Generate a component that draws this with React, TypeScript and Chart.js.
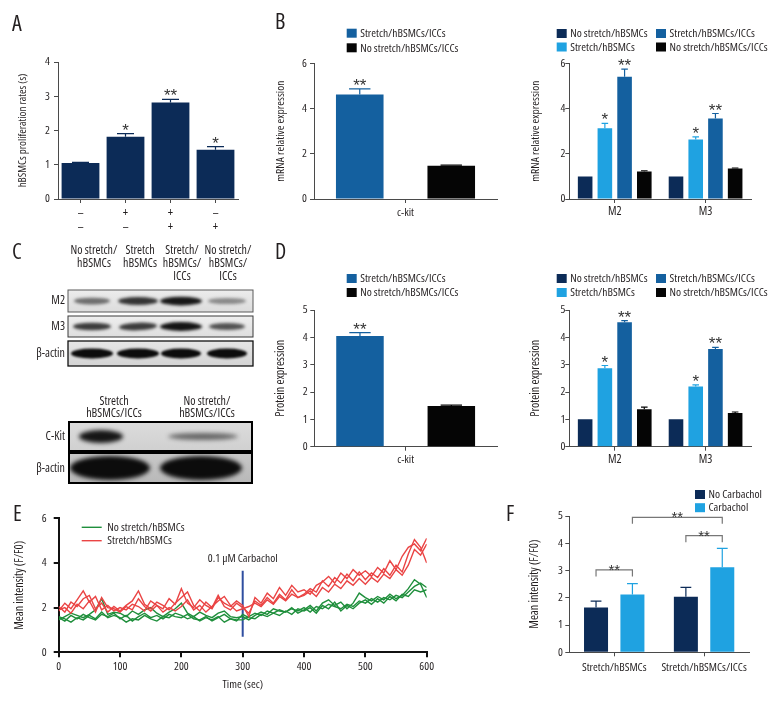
import React, { useEffect, useRef } from 'react';
import { Chart, registerables } from 'chart.js';

Chart.register(...registerables);

// Condensed face of Open Sans (width axis), close to the original condensed figure font
const FAM = "'Open Sans', 'Liberation Sans', Arial, sans-serif";
const PRE = 'condensed ';
const F = (size: number) => `${PRE}${size}px ${FAM}`;

Chart.defaults.font.family = FAM;
(Chart.defaults.font as any).weight = 'normal condensed';

const TEXT = '#231f20';
const AXIS = '#4a4a4a';
const STAR = '#333333';
const NAVY = '#0c2b57';
const MID = '#14609f';
const LIGHT = '#1fa2e1';
const BLACK = '#050505';
const GREEN = '#1f8f3c';
const RED = '#ea4444';
const CARB_BLUE = '#2f4ea0';
const BRACKET = '#777777';

// ---------------- Panel A ----------------
const A_LABELS = [['–', '–'], ['+', '–'], ['+', '+'], ['–', '+']];
const A_VALUES = [1.05, 1.82, 2.82, 1.44];
const A_ERR = [0.02, 0.09, 0.09, 0.09];
const A_STARS = ['', '*', '**', '*'];

// ---------------- Series names ----------------
const S_NOSTRETCH_H = 'No stretch/hBSMCs';
const S_STRETCH_H = 'Stretch/hBSMCs';
const S_STRETCH_HI = 'Stretch/hBSMCs/ICCs';
const S_NOSTRETCH_HI = 'No stretch/hBSMCs/ICCs';

// ---------------- Panel B (mRNA) ----------------
const CKIT_LABELS = ['c-kit'];
const B_CKIT_STRETCH = [4.62];
const B_CKIT_STRETCH_ERR = [0.25];
const B_CKIT_NOSTRETCH = [1.47];
const B_CKIT_NOSTRETCH_ERR = [0.03];

const M_LABELS = ['M2', 'M3'];
const B_M_NOSTRETCH_H = [1.0, 1.0];
const B_M_STRETCH_H = [3.13, 2.63];
const B_M_STRETCH_H_ERR = [0.21, 0.12];
const B_M_STRETCH_HI = [5.41, 3.56];
const B_M_STRETCH_HI_ERR = [0.33, 0.22];
const B_M_NOSTRETCH_HI = [1.22, 1.35];
const B_M_NOSTRETCH_HI_ERR = [0.03, 0.02];

// ---------------- Panel D (protein) ----------------
const D_CKIT_STRETCH = [4.05];
const D_CKIT_STRETCH_ERR = [0.12];
const D_CKIT_NOSTRETCH = [1.49];
const D_CKIT_NOSTRETCH_ERR = [0.03];

const D_M_NOSTRETCH_H = [1.0, 1.0];
const D_M_STRETCH_H = [2.87, 2.2];
const D_M_STRETCH_H_ERR = [0.1, 0.06];
const D_M_STRETCH_HI = [4.55, 3.57];
const D_M_STRETCH_HI_ERR = [0.06, 0.06];
const D_M_NOSTRETCH_HI = [1.37, 1.23];
const D_M_NOSTRETCH_HI_ERR = [0.08, 0.04];

const M_STARS_LIGHT = ['*', '*'];
const M_STARS_MID = ['**', '**'];
const CKIT_STARS = ['**'];

// ---------------- Panel E (time course) ----------------
const E_TIME = [0, 10, 20, 30, 40, 50, 60, 70, 80, 90, 100, 110, 120, 130, 140, 150, 160, 170, 180, 190, 200, 210, 220, 230, 240, 250, 260, 270, 280, 290, 300, 310, 320, 330, 340, 350, 360, 370, 380, 390, 400, 410, 420, 430, 440, 450, 460, 470, 480, 490, 500, 510, 520, 530, 540, 550, 560, 570, 580, 590, 600];
const E_GREEN_1 = [1.55, 1.40, 1.65, 1.50, 1.70, 1.55, 1.45, 1.70, 1.60, 1.75,
  1.50, 1.65, 1.40, 1.60, 1.75, 1.55, 1.65, 1.50, 1.70, 1.60,
  1.55, 1.70, 1.50, 1.45, 1.60, 1.40, 1.55, 1.70, 1.50, 1.45,
  1.45, 1.60, 1.75, 1.65, 1.85, 1.75, 1.90, 1.80, 1.95, 1.85,
  2.00, 1.80, 2.05, 1.95, 2.15, 2.05, 1.95, 2.15, 2.05, 2.30,
  2.20, 2.40, 2.25, 2.45, 2.35, 2.55, 2.45, 2.70, 2.95, 3.10,
  2.90];
const E_GREEN_2 = [1.45, 1.60, 1.75, 1.65, 1.55, 1.70, 1.90, 2.40, 1.70, 1.80,
  1.75, 1.60, 1.85, 1.70, 1.90, 2.00, 1.75, 1.60, 1.80, 1.95,
  2.20, 1.75, 1.60, 1.80, 1.65, 1.55, 1.75, 1.85, 1.60, 1.55,
  1.60, 1.45, 1.65, 1.80, 1.70, 1.95, 1.85, 1.80, 2.00, 1.75,
  1.90, 2.10, 1.85, 2.20, 2.35, 2.10, 2.25, 1.95, 2.20, 2.65,
  2.45, 2.30, 2.50, 2.35, 2.60, 2.40, 2.55, 2.85, 3.25, 3.05,
  2.45];
const E_GREEN_3 = [1.60, 1.50, 1.35, 1.55, 1.45, 1.65, 1.50, 1.80, 1.55, 1.65,
  1.55, 1.35, 1.50, 1.45, 1.65, 1.50, 1.40, 1.60, 1.55, 1.75,
  1.65, 1.50, 1.60, 1.40, 1.55, 1.45, 1.60, 1.35, 1.50, 1.40,
  1.70, 1.55, 1.50, 1.70, 1.60, 1.75, 1.65, 1.85, 1.70, 1.95,
  1.85, 2.00, 1.75, 2.10, 1.95, 2.25, 1.85, 2.10, 1.95, 2.20,
  2.35, 2.15, 2.40, 2.20, 2.50, 2.30, 2.60, 2.50, 2.80, 2.70,
  2.80];
const E_RED_1 = [1.85, 2.20, 1.95, 2.35, 2.75, 2.25, 2.50, 1.90, 2.10, 1.85,
  2.00, 1.90, 2.15, 2.05, 1.85, 2.30, 2.10, 1.95, 2.40, 2.15,
  2.85, 2.20, 2.00, 2.35, 2.10, 1.95, 2.45, 2.20, 2.05, 2.30,
  2.10, 1.60, 2.45, 2.20, 2.65, 2.40, 2.90, 2.55, 3.00, 2.70,
  2.80, 2.60, 3.00, 3.15, 3.40, 3.10, 3.55, 3.30, 3.70, 3.45,
  3.65, 3.40, 3.80, 3.55, 4.10, 3.70, 4.30, 4.70, 4.85, 4.55,
  5.10];
const E_RED_2 = [2.05, 1.80, 2.25, 2.05, 2.40, 2.55, 1.95, 2.20, 1.80, 2.05,
  1.85, 2.10, 2.30, 2.75, 2.15, 1.95, 2.25, 2.10, 1.90, 2.20,
  2.45, 2.70, 2.10, 1.85, 2.25, 2.00, 2.55, 2.05, 1.90, 2.20,
  2.00, 1.75, 2.30, 2.10, 2.45, 2.20, 2.60, 2.35, 2.80, 2.45,
  2.60, 2.85, 2.70, 3.20, 2.95, 3.35, 3.10, 3.50, 3.20, 3.60,
  3.25, 3.55, 3.35, 3.75, 3.45, 3.90, 3.60, 4.40, 5.05, 4.70,
  4.00];
const E_RED_3 = [1.90, 2.00, 1.75, 2.15, 1.95, 2.30, 1.80, 2.45, 2.00, 1.95,
  1.80, 2.05, 1.90, 2.40, 2.05, 1.85, 2.10, 1.80, 2.00, 1.85,
  2.05, 2.35, 1.90, 2.10, 1.80, 2.05, 2.30, 2.50, 2.10, 1.85,
  1.95, 2.05, 2.20, 2.05, 2.35, 2.15, 2.50, 2.30, 2.60, 2.45,
  2.55, 2.75, 2.50, 2.90, 2.70, 3.05, 2.85, 3.20, 3.00, 3.30,
  3.05, 3.35, 3.15, 3.50, 3.30, 3.70, 3.45, 3.90, 4.60, 4.35,
  4.85];
const E_GREEN = [E_GREEN_1, E_GREEN_2, E_GREEN_3];
const E_RED = [E_RED_1, E_RED_2, E_RED_3];
const E_LEGEND = ['No stretch/hBSMCs', 'Stretch/hBSMCs'];
const CARB_TIME = 300;
const CARB_Y = [0.7, 3.65];
const CARB_TEXT = '0.1 μM Carbachol';
const CARB_TEXT_Y = 4.2;

// ---------------- Panel F ----------------
const F_LABELS = ['Stretch/hBSMCs', 'Stretch/hBSMCs/ICCs'];
const F_NOCARB = [1.64, 2.04];
const F_NOCARB_ERR = [0.24, 0.34];
const F_CARB = [2.12, 3.12];
const F_CARB_ERR = [0.40, 0.69];
const F_BRACKET_LEVELS = [3.02, 4.28, 4.95];

// ---------------- Panel C (blots) ----------------
const C_HEADERS = [['No stretch/', 'hBSMCs'], ['Stretch', 'hBSMCs'], ['Stretch/', 'hBSMCs/', 'ICCs'], ['No stretch/', 'hBSMCs/', 'ICCs']];
const C_HEADERS_2 = [['Stretch', 'hBSMCs/ICCs'], ['No stretch/', 'hBSMCs/ICCs']];
const M2_INTENSITY = [0.55, 0.82, 0.95, 0.42];
const M3_INTENSITY = [0.78, 0.78, 0.97, 0.68];
const ACTIN_INTENSITY = [1, 1, 1, 1];
const CKIT_INTENSITY = [0.95, 0.55];
const ACTIN2_INTENSITY = [1, 1];

type Box = { x: number; y: number; w: number; h: number };
type Plot = { l: number; t: number; r: number; b: number };

interface BarSeries {
  label: string;
  color: string;
  values: (number | null)[];
  err?: number[];
  stars?: string[];
  leg?: [number, number];
}

interface BarSpec {
  box: Box;
  plot: Plot;
  labels: any[];
  series: BarSeries[];
  yMax: number;
  yStep: number;
  yTitle: string;
  yTitleX: number;
  yTitleSize: number;
  yTickRight: number;
  xLabelY: number;
  xFontSize: number;
  xLineHeight?: number;
  catPct: number;
  barPct: number;
  legend?: { cols: number[]; rows: number[] };
  brackets?: { a: [number, number]; b: [number, number]; level: number; text: string }[];
}

const TL = 4;
const STAR_FONT = (s: number) => `${s}px 'Liberation Sans', Arial, sans-serif`;

function barExtras(spec: BarSpec) {
  return {
    id: 'barExtras',
    afterDatasetsDraw(chart: any) {
      const ctx = chart.ctx as CanvasRenderingContext2D;
      const ys = chart.scales.y;
      ctx.save();
      spec.series.forEach((s, di) => {
        const meta = chart.getDatasetMeta(di);
        s.values.forEach((v, i) => {
          if (v == null) return;
          const bar: any = meta.data[i];
          if (!bar) return;
          const e = s.err ? s.err[i] : 0;
          const yTop = ys.getPixelForValue(v);
          const yErr = ys.getPixelForValue(v + e);
          if (e > 0) {
            const cw = bar.width * 0.45;
            ctx.strokeStyle = s.color;
            ctx.lineWidth = 1.2;
            ctx.beginPath();
            ctx.moveTo(bar.x, yTop);
            ctx.lineTo(bar.x, yErr);
            ctx.moveTo(bar.x - cw / 2, yErr);
            ctx.lineTo(bar.x + cw / 2, yErr);
            ctx.stroke();
          }
          const st = s.stars ? s.stars[i] : '';
          if (st) {
            ctx.fillStyle = STAR;
            ctx.font = STAR_FONT(17);
            ctx.textAlign = 'center';
            ctx.textBaseline = 'alphabetic';
            ctx.fillText(st, bar.x, yErr + 2);
          }
        });
      });
      if (spec.legend) {
        const lg = spec.legend;
        ctx.font = F(11.5);
        ctx.textAlign = 'left';
        ctx.textBaseline = 'middle';
        spec.series.forEach((s) => {
          if (!s.leg) return;
          const bx = lg.cols[s.leg[0]] - spec.box.x;
          const by = lg.rows[s.leg[1]] - spec.box.y;
          ctx.fillStyle = s.color;
          ctx.fillRect(bx, by - 4.5, 10, 9);
          ctx.fillStyle = TEXT;
          ctx.fillText(s.label, bx + 13.5, by + 0.5);
        });
      }
      if (spec.brackets) {
        ctx.strokeStyle = BRACKET;
        ctx.lineWidth = 1.2;
        spec.brackets.forEach((br) => {
          const pa: any = chart.getDatasetMeta(br.a[0]).data[br.a[1]];
          const pb: any = chart.getDatasetMeta(br.b[0]).data[br.b[1]];
          const y = ys.getPixelForValue(br.level);
          ctx.beginPath();
          ctx.moveTo(pa.x, y + 6.5);
          ctx.lineTo(pa.x, y);
          ctx.lineTo(pb.x, y);
          ctx.lineTo(pb.x, y + 6.5);
          ctx.stroke();
          ctx.fillStyle = STAR;
          ctx.font = STAR_FONT(15);
          ctx.textAlign = 'center';
          ctx.textBaseline = 'alphabetic';
          ctx.fillText(br.text, (pa.x + pb.x) / 2, y + 5);
        });
      }
      ctx.restore();
    },
  };
}

function barConfig(spec: BarSpec): any {
  const xlh = spec.xLineHeight ?? 1.2;
  const xHalf = (spec.xFontSize * xlh) / 2;
  const tHalf = (spec.yTitleSize * 1.2) / 2;
  return {
    type: 'bar',
    data: {
      labels: spec.labels,
      datasets: spec.series.map((s) => ({
        label: s.label,
        data: s.values,
        backgroundColor: s.color,
        borderColor: s.color,
        borderWidth: 0,
        categoryPercentage: spec.catPct,
        barPercentage: spec.barPct,
      })),
    },
    options: {
      animation: false,
      responsive: false,
      devicePixelRatio: 1,
      layout: {
        padding: {
          left: 0,
          top: spec.plot.t - spec.box.y,
          right: spec.box.x + spec.box.w - spec.plot.r,
          bottom: 0,
        },
      },
      plugins: { legend: { display: false }, tooltip: { enabled: false } },
      scales: {
        x: {
          offset: true,
          grid: { offset: false, drawOnChartArea: false, drawTicks: true, tickLength: TL, color: AXIS, lineWidth: 1 },
          border: { display: true, color: AXIS, width: 1 },
          ticks: {
            padding: spec.xLabelY - spec.plot.b - TL - xHalf,
            font: { size: spec.xFontSize, lineHeight: xlh },
            color: TEXT,
            maxRotation: 0,
            autoSkip: false,
          },
          afterFit: (s: any) => {
            s.height = spec.box.y + spec.box.h - spec.plot.b;
          },
        },
        y: {
          min: 0,
          max: spec.yMax,
          grid: { drawOnChartArea: false, drawTicks: true, tickLength: TL, color: AXIS, lineWidth: 1 },
          border: { display: true, color: AXIS, width: 1 },
          ticks: {
            stepSize: spec.yStep,
            padding: spec.plot.l - TL - spec.yTickRight,
            font: { size: 11.5 },
            color: TEXT,
          },
          title: {
            display: true,
            text: spec.yTitle,
            color: TEXT,
            font: { size: spec.yTitleSize },
            padding: { top: spec.yTitleX - spec.box.x - tHalf, bottom: 0 },
          },
          afterFit: (s: any) => {
            s.width = spec.plot.l - spec.box.x;
          },
        },
      },
    },
    plugins: [barExtras(spec)],
  };
}

// ---------------- Specs ----------------
const SPEC_A: BarSpec = {
  box: { x: 0, y: 0, w: 250, h: 240 },
  plot: { l: 58, t: 62, r: 238, b: 199 },
  labels: A_LABELS,
  series: [{ label: 'A', color: NAVY, values: A_VALUES, err: A_ERR, stars: A_STARS }],
  yMax: 4,
  yStep: 1,
  yTitle: 'hBSMCs proliferation rates (s)',
  yTitleX: 23,
  yTitleSize: 11,
  yTickRight: 50,
  xLabelY: 213,
  xFontSize: 12.5,
  xLineHeight: 1.12,
  catPct: 1,
  barPct: 0.84,
};

const SPEC_B1: BarSpec = {
  box: { x: 255, y: 0, w: 255, h: 230 },
  plot: { l: 314, t: 63.3, r: 497, b: 199 },
  labels: CKIT_LABELS,
  series: [
    { label: S_STRETCH_HI, color: MID, values: B_CKIT_STRETCH, err: B_CKIT_STRETCH_ERR, stars: CKIT_STARS, leg: [0, 0] },
    { label: '', color: 'rgba(0,0,0,0)', values: [null] },
    { label: S_NOSTRETCH_HI, color: BLACK, values: B_CKIT_NOSTRETCH, err: B_CKIT_NOSTRETCH_ERR, leg: [0, 1] },
  ],
  yMax: 6,
  yStep: 2,
  yTitle: 'mRNA relative expression',
  yTitleX: 280.7,
  yTitleSize: 11.5,
  yTickRight: 307,
  xLabelY: 213,
  xFontSize: 11.5,
  catPct: 0.75,
  barPct: 1.04,
  legend: { cols: [346.7], rows: [33.2, 47.8] },
};

const SPEC_B2: BarSpec = {
  box: { x: 512, y: 0, w: 268, h: 230 },
  plot: { l: 569.3, t: 63.3, r: 751, b: 199 },
  labels: M_LABELS,
  series: [
    { label: S_NOSTRETCH_H, color: NAVY, values: B_M_NOSTRETCH_H, leg: [0, 0] },
    { label: S_STRETCH_H, color: LIGHT, values: B_M_STRETCH_H, err: B_M_STRETCH_H_ERR, stars: M_STARS_LIGHT, leg: [0, 1] },
    { label: S_STRETCH_HI, color: MID, values: B_M_STRETCH_HI, err: B_M_STRETCH_HI_ERR, stars: M_STARS_MID, leg: [1, 0] },
    { label: S_NOSTRETCH_HI, color: BLACK, values: B_M_NOSTRETCH_HI, err: B_M_NOSTRETCH_HI_ERR, leg: [1, 1] },
  ],
  yMax: 6,
  yStep: 2,
  yTitle: 'mRNA relative expression',
  yTitleX: 536,
  yTitleSize: 11.5,
  yTickRight: 565.5,
  xLabelY: 211.7,
  xFontSize: 12,
  catPct: 0.868,
  barPct: 0.74,
  legend: { cols: [556.7, 656], rows: [33.5, 47] },
};

const SPEC_D1: BarSpec = {
  box: { x: 255, y: 230, w: 255, h: 245 },
  plot: { l: 314.3, t: 310, r: 497, b: 446.7 },
  labels: CKIT_LABELS,
  series: [
    { label: S_STRETCH_HI, color: MID, values: D_CKIT_STRETCH, err: D_CKIT_STRETCH_ERR, stars: CKIT_STARS, leg: [0, 0] },
    { label: '', color: 'rgba(0,0,0,0)', values: [null] },
    { label: S_NOSTRETCH_HI, color: BLACK, values: D_CKIT_NOSTRETCH, err: D_CKIT_NOSTRETCH_ERR, leg: [0, 1] },
  ],
  yMax: 5,
  yStep: 1,
  yTitle: 'Protein expression',
  yTitleX: 280.7,
  yTitleSize: 12,
  yTickRight: 307.7,
  xLabelY: 460,
  xFontSize: 11.5,
  catPct: 0.75,
  barPct: 1.04,
  legend: { cols: [346.7], rows: [278.5, 292.5] },
};

const SPEC_D2: BarSpec = {
  box: { x: 512, y: 230, w: 268, h: 245 },
  plot: { l: 569.3, t: 310, r: 751, b: 446.7 },
  labels: M_LABELS,
  series: [
    { label: S_NOSTRETCH_H, color: NAVY, values: D_M_NOSTRETCH_H, leg: [0, 0] },
    { label: S_STRETCH_H, color: LIGHT, values: D_M_STRETCH_H, err: D_M_STRETCH_H_ERR, stars: M_STARS_LIGHT, leg: [0, 1] },
    { label: S_STRETCH_HI, color: MID, values: D_M_STRETCH_HI, err: D_M_STRETCH_HI_ERR, stars: M_STARS_MID, leg: [1, 0] },
    { label: S_NOSTRETCH_HI, color: BLACK, values: D_M_NOSTRETCH_HI, err: D_M_NOSTRETCH_HI_ERR, leg: [1, 1] },
  ],
  yMax: 5,
  yStep: 1,
  yTitle: 'Protein expression',
  yTitleX: 536,
  yTitleSize: 12,
  yTickRight: 565.5,
  xLabelY: 460,
  xFontSize: 12,
  catPct: 0.868,
  barPct: 0.74,
  legend: { cols: [556.7, 656], rows: [278.5, 292.5] },
};

const SPEC_F: BarSpec = {
  box: { x: 512, y: 480, w: 268, h: 240 },
  plot: { l: 569.3, t: 516, r: 749, b: 652.3 },
  labels: F_LABELS,
  series: [
    { label: 'No Carbachol', color: NAVY, values: F_NOCARB, err: F_NOCARB_ERR, leg: [0, 0] },
    { label: 'Carbachol', color: LIGHT, values: F_CARB, err: F_CARB_ERR, leg: [0, 1] },
  ],
  yMax: 5,
  yStep: 1,
  yTitle: 'Mean intensity (F/F0)',
  yTitleX: 535,
  yTitleSize: 12,
  yTickRight: 563,
  xLabelY: 667.7,
  xFontSize: 11.5,
  catPct: 0.81,
  barPct: 0.66,
  legend: { cols: [695], rows: [494.5, 507.7] },
  brackets: [
    { a: [0, 0], b: [1, 0], level: F_BRACKET_LEVELS[0], text: '**' },
    { a: [0, 1], b: [1, 1], level: F_BRACKET_LEVELS[1], text: '**' },
    { a: [1, 0], b: [1, 1], level: F_BRACKET_LEVELS[2], text: '**' },
  ],
};

// ---------------- Panel E config ----------------
const BOX_E: Box = { x: 0, y: 490, w: 445, h: 230 };
const PLOT_E: Plot = { l: 58.7, t: 518.3, r: 426.7, b: 652.3 };

function eConfig(): any {
  const toPts = (arr: number[]) => arr.map((y, i) => ({ x: E_TIME[i], y }));
  const mk = (arr: number[], color: string) => ({
    data: toPts(arr),
    borderColor: color,
    borderWidth: 1.4,
    pointRadius: 0,
    tension: 0,
    fill: false,
  });
  const box = BOX_E;
  const plot = PLOT_E;
  const TLE = 5;
  return {
    type: 'line',
    data: {
      datasets: [
        ...E_RED.map((a) => mk(a, RED)),
        ...E_GREEN.map((a) => mk(a, GREEN)),
        {
          data: [{ x: CARB_TIME, y: CARB_Y[0] }, { x: CARB_TIME, y: CARB_Y[1] }],
          borderColor: CARB_BLUE,
          borderWidth: 2,
          pointRadius: 0,
        },
      ],
    },
    options: {
      animation: false,
      responsive: false,
      devicePixelRatio: 1,
      layout: { padding: { left: 0, top: plot.t - box.y, right: box.x + box.w - plot.r, bottom: 0 } },
      plugins: { legend: { display: false }, tooltip: { enabled: false } },
      scales: {
        x: {
          type: 'linear',
          min: 0,
          max: 600,
          grid: { drawOnChartArea: false, drawTicks: true, tickLength: TLE, color: '#111', lineWidth: 2 },
          border: { display: true, color: '#111', width: 2 },
          ticks: { stepSize: 100, padding: 667 - plot.b - TLE - 6.9, font: { size: 11.5 }, color: TEXT, maxRotation: 0 },
          title: { display: true, text: 'Time (sec)', color: TEXT, font: { size: 11.5 }, padding: { top: 0, bottom: box.y + box.h - 6.9 - 685 } },
          afterFit: (s: any) => {
            s.height = box.y + box.h - plot.b;
          },
        },
        y: {
          min: 0,
          max: 6,
          grid: { drawOnChartArea: false, drawTicks: true, tickLength: TLE, color: '#111', lineWidth: 2 },
          border: { display: true, color: '#111', width: 2 },
          ticks: { stepSize: 2, padding: plot.l - TLE - 46.7, font: { size: 11.5 }, color: TEXT },
          title: { display: true, text: 'Mean intensity (F/F0)', color: TEXT, font: { size: 12 }, padding: { top: 20 - box.x - 7.2, bottom: 0 } },
          afterFit: (s: any) => {
            s.width = plot.l - box.x;
          },
        },
      },
    },
    plugins: [
      {
        id: 'eExtras',
        afterDraw(chart: any) {
          const ctx = chart.ctx as CanvasRenderingContext2D;
          ctx.save();
          ctx.font = F(11.5);
          ctx.textBaseline = 'middle';
          ctx.textAlign = 'left';
          const colors = [GREEN, RED];
          const rows = [527.3, 540.7];
          E_LEGEND.forEach((t, i) => {
            const y = rows[i] - box.y;
            ctx.strokeStyle = colors[i];
            ctx.lineWidth = 1.4;
            ctx.beginPath();
            ctx.moveTo(81.7 - box.x, y);
            ctx.lineTo(101.7 - box.x, y);
            ctx.stroke();
            ctx.fillStyle = TEXT;
            ctx.fillText(t, 107.3 - box.x, y + 0.5);
          });
          ctx.textAlign = 'center';
          ctx.fillText(CARB_TEXT, chart.scales.x.getPixelForValue(CARB_TIME), chart.scales.y.getPixelForValue(CARB_TEXT_Y));
          ctx.restore();
        },
      },
    ],
  };
}

// ---------------- Components ----------------
function ChartCanvas({ box, make }: { box: Box; make: () => any }) {
  const ref = useRef<HTMLCanvasElement>(null);
  useEffect(() => {
    const chart = new Chart(ref.current as HTMLCanvasElement, make());
    return () => chart.destroy();
  }, []);
  return (
    <canvas
      ref={ref}
      width={box.w}
      height={box.h}
      style={{ position: 'absolute', left: box.x, top: box.y, width: box.w, height: box.h }}
    />
  );
}

const BLOT_BOX: Box = { x: 0, y: 230, w: 260, h: 262 };
const LANES4 = [92, 138, 181, 227];
const LANES2 = [101, 203];

function BlotPanel() {
  const ref = useRef<HTMLCanvasElement>(null);
  useEffect(() => {
    const c = ref.current as HTMLCanvasElement;
    const ctx = c.getContext('2d') as CanvasRenderingContext2D;
    ctx.setTransform(1, 0, 0, 1, -BLOT_BOX.x, -BLOT_BOX.y);
    ctx.fillStyle = '#fff';
    ctx.fillRect(BLOT_BOX.x, BLOT_BOX.y, BLOT_BOX.w, BLOT_BOX.h);

    ctx.fillStyle = TEXT;
    ctx.font = F(12);
    ctx.textAlign = 'center';
    ctx.textBaseline = 'middle';
    const hx = [94, 140, 182, 228];
    C_HEADERS.forEach((lines, i) => {
      lines.forEach((t, j) => ctx.fillText(t, hx[i], 250.5 + j * 12.8));
    });
    const hx2 = [114, 207];
    C_HEADERS_2.forEach((lines, i) => {
      lines.forEach((t, j) => ctx.fillText(t, hx2[i], 401.5 + j * 12));
    });

    ctx.textAlign = 'right';
    const rowLabels: [string, number][] = [['M2', 301], ['M3', 327], ['β-actin', 353.5], ['C-Kit', 436.5], ['β-actin', 468.5]];
    rowLabels.forEach(([t, y]) => ctx.fillText(t, 65, y));

    const strip = (
      x0: number, y0: number, x1: number, y1: number,
      bgTop: string, bgBot: string, border: string, bw: number,
      bands: { cx: number; w: number; h: number; a: number; blur: number; tilt?: number }[],
    ) => {
      ctx.save();
      ctx.beginPath();
      ctx.rect(x0, y0, x1 - x0, y1 - y0);
      ctx.clip();
      const g = ctx.createLinearGradient(0, y0, 0, y1);
      g.addColorStop(0, bgTop);
      g.addColorStop(1, bgBot);
      ctx.fillStyle = g;
      ctx.fillRect(x0, y0, x1 - x0, y1 - y0);
      const cy = (y0 + y1) / 2;
      bands.forEach((b) => {
        ctx.filter = `blur(${b.blur}px)`;
        ctx.fillStyle = `rgba(12,12,12,${b.a})`;
        ctx.beginPath();
        ctx.ellipse(b.cx, cy, b.w / 2, b.h / 2, b.tilt || 0, 0, Math.PI * 2);
        ctx.fill();
      });
      ctx.restore();
      ctx.filter = 'none';
      ctx.strokeStyle = border;
      ctx.lineWidth = bw;
      ctx.strokeRect(x0, y0, x1 - x0, y1 - y0);
    };

    strip(68, 290, 253, 312, '#ececec', '#dcdcdc', '#5a5a5a', 1,
      M2_INTENSITY.map((a, i) => ({ cx: LANES4[i], w: [36, 40, 42, 38][i], h: 4 + a * 5, a, blur: 1.6 })));
    strip(68, 316, 253, 337, '#eeeeee', '#dedede', '#3a3a3a', 1,
      M3_INTENSITY.map((a, i) => ({ cx: LANES4[i], w: [38, 38, 42, 36][i], h: 3 + a * 6, a, blur: 1.4, tilt: i === 1 ? -0.04 : 0 })));
    strip(68, 341, 253, 366, '#e6e6e6', '#d4d4d4', '#111', 1.3,
      ACTIN_INTENSITY.map((a, i) => ({ cx: LANES4[i], w: [42, 42, 40, 40][i], h: 10, a, blur: 1.3 })));
    strip(69, 422, 252, 451, '#dcdcdc', '#d0d0d0', '#000', 2,
      CKIT_INTENSITY.map((a, i) => ({ cx: LANES2[i], w: [44, 70][i], h: [13, 7][i], a, blur: 2 })));
    strip(69, 453, 252, 483, '#c8c8c8', '#b8b8b8', '#000', 2,
      ACTIN2_INTENSITY.map((a, i) => ({ cx: [110, 201][i], w: [80, 82][i], h: 24, a, blur: 2.2 })));
  }, []);
  return (
    <canvas
      ref={ref}
      width={BLOT_BOX.w}
      height={BLOT_BOX.h}
      style={{ position: 'absolute', left: BLOT_BOX.x, top: BLOT_BOX.y, width: BLOT_BOX.w, height: BLOT_BOX.h }}
    />
  );
}

const PANEL_LABELS: { t: string; x: number; y: number }[] = [
  { t: 'A', x: 12, y: 11 },
  { t: 'B', x: 275, y: 9 },
  { t: 'C', x: 12, y: 239 },
  { t: 'D', x: 275, y: 239 },
  { t: 'E', x: 13, y: 501 },
  { t: 'F', x: 506, y: 501 },
];

export default function App() {
  return (
    <div style={{ position: 'absolute', left: 0, top: 0, width: 780, height: 720, background: '#fff', overflow: 'hidden' }}>
      <ChartCanvas box={SPEC_A.box} make={() => barConfig(SPEC_A)} />
      <ChartCanvas box={SPEC_B1.box} make={() => barConfig(SPEC_B1)} />
      <ChartCanvas box={SPEC_B2.box} make={() => barConfig(SPEC_B2)} />
      <BlotPanel />
      <ChartCanvas box={SPEC_D1.box} make={() => barConfig(SPEC_D1)} />
      <ChartCanvas box={SPEC_D2.box} make={() => barConfig(SPEC_D2)} />
      <ChartCanvas box={BOX_E} make={() => eConfig()} />
      <ChartCanvas box={SPEC_F.box} make={() => barConfig(SPEC_F)} />
      {PANEL_LABELS.map((p) => (
        <div
          key={p.t}
          style={{
            position: 'absolute', left: p.x, top: p.y, fontFamily: FAM, fontStretch: 'condensed',
            fontSize: 22, lineHeight: '22px', color: TEXT,
          }}
        >
          {p.t}
        </div>
      ))}
    </div>
  );
}
